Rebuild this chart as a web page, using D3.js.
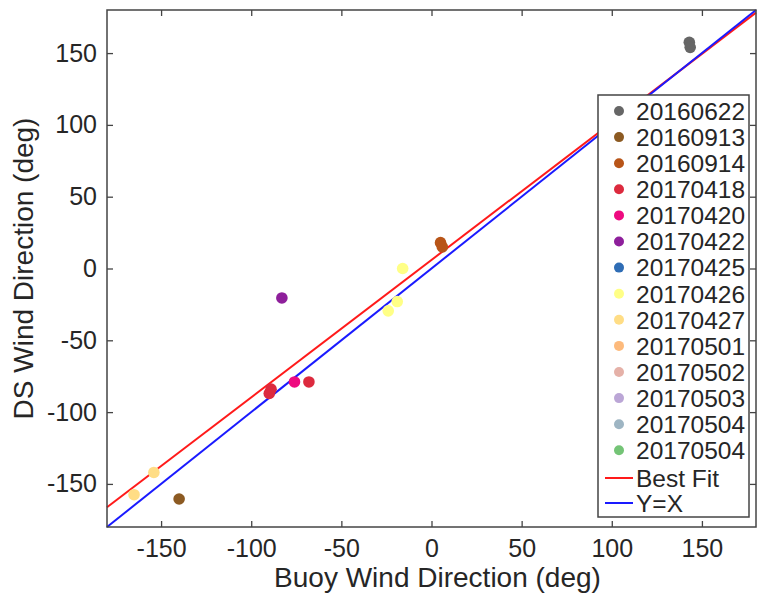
<!DOCTYPE html>
<meta charset="utf-8">
<style>
  html, body { margin: 0; background: #fff; }
  svg text { font-family: "Liberation Sans", Arial, Helvetica, sans-serif; fill: #262626; }
</style>
<body>
<script src="https://d3js.org/d3.v7.min.js"></script>
<script>
  // legend entries and their colours
  var dates = ["20160622", "20160913", "20160914", "20170418", "20170420", "20170422", "20170425",
    "20170426", "20170427", "20170501", "20170502", "20170503", "20170504", "20170504"];
  var colors = ["#666666", "#8c5a22", "#b85518", "#dc2a3e", "#ee0a80", "#8e1f9b", "#2f6db5",
    "#ffff86", "#ffdd85", "#fdba7c", "#e5b1a8", "#bba6d6", "#9eb5c3", "#74c476"];

  // points: buoy x, DS y, and which entry they belong to
  var buoyDir = [143, 143.5, -140, 5, 6, -89, -90, -68, -76, -83, -16, -19, -24, -154, -165];
  var dsDir   = [157.5, 154, -160.5, 18, 15, -84, -87, -79, -79, -20.5, 0, -23, -29.5, -142, -157.5];
  var group   = [0, 0, 1, 2, 2, 3, 3, 3, 4, 5, 7, 7, 7, 8, 8];

  var fitLine = [[-180, -166.3], [180, 178.2]];
  var oneToOne = [[-180, -180], [180, 180]];
  var tickVals = [-150, -100, -50, 0, 50, 100, 150];

  var margin = { top: 10, right: 1, bottom: 68, left: 107 },
    width = 757 - margin.left - margin.right,
    height = 595 - margin.top - margin.bottom;

  var svg = d3.select("body").append("svg")
    .attr("width", 757)
    .attr("height", 595)
    .append("g")
    .attr("transform", "translate(" + margin.left + "," + margin.top + ")");

  var x = d3.scaleLinear().domain([-180, 180]).range([0, width]);
  var y = d3.scaleLinear().domain([-180, 180]).range([height, 0]);

  // plain hyphen for negatives, like the original
  var fmt = function (d) { return String(d); };

  // axes with inward ticks on all four sides
  function styleAxis(g) {
    g.select(".domain").remove();
    g.selectAll(".tick line").attr("stroke", "#444").attr("stroke-width", 1.3);
    g.selectAll("text").style("font-size", "25px").attr("fill", "#262626");
  }
  svg.append("g").attr("transform", "translate(0," + height + ")")
    .call(d3.axisBottom(x).tickValues(tickVals).tickSize(-6).tickPadding(12).tickFormat(fmt))
    .call(styleAxis);
  svg.append("g")
    .call(d3.axisLeft(y).tickValues(tickVals).tickSize(-6).tickPadding(10).tickFormat(fmt))
    .call(styleAxis);
  svg.append("g")
    .call(d3.axisTop(x).tickValues(tickVals).tickSize(-6).tickFormat(""))
    .call(styleAxis);
  svg.append("g").attr("transform", "translate(" + width + ",0)")
    .call(d3.axisRight(y).tickValues(tickVals).tickSize(-6).tickFormat(""))
    .call(styleAxis);

  var line = d3.line().x(function (d) { return x(d[0]); }).y(function (d) { return y(d[1]); });

  svg.append("path").datum(fitLine).attr("d", line)
    .attr("fill", "none").attr("stroke", "#ff1a1a").attr("stroke-width", 2);
  svg.append("path").datum(oneToOne).attr("d", line)
    .attr("fill", "none").attr("stroke", "#1a1aff").attr("stroke-width", 2);

  // the scatter points
  svg.selectAll(".pt")
    .data(buoyDir)
    .enter().append("circle")
    .attr("class", "pt")
    .attr("cx", function (d) { return x(d); })
    .attr("cy", function (d, i) { return y(dsDir[i]); })
    .attr("r", 5.8)
    .attr("fill", function (d, i) { return colors[group[i]]; });

  // box
  svg.append("rect").attr("width", width).attr("height", height)
    .attr("fill", "none").attr("stroke", "#444").attr("stroke-width", 1.5);

  // axis labels
  svg.append("text")
    .attr("x", width / 2 + 6)
    .attr("y", height + 60)
    .style("text-anchor", "middle")
    .style("font-size", "28px")
    .text("Buoy Wind Direction (deg)");

  svg.append("text")
    .attr("transform", "rotate(-90)")
    .attr("x", -height / 2)
    .attr("y", -74)
    .style("text-anchor", "middle")
    .style("font-size", "28px")
    .text("DS Wind Direction (deg)");

  // legend
  var leg = svg.append("g").attr("transform", "translate(" + (598 - margin.left) + "," + (95 - margin.top) + ")");
  leg.append("rect").attr("width", 151).attr("height", 422)
    .attr("fill", "#fff").attr("stroke", "#444").attr("stroke-width", 1.5);

  var rowH = 26.1;
  var items = leg.selectAll(".item")
    .data(dates)
    .enter().append("g")
    .attr("class", "item")
    .attr("transform", function (d, i) { return "translate(0," + (16 + i * rowH) + ")"; });
  items.append("circle").attr("cx", 21).attr("r", 5)
    .attr("fill", function (d, i) { return colors[i]; });
  items.append("text").attr("x", 38).attr("dy", "0.36em")
    .style("font-size", "24.5px")
    .text(function (d) { return d; });

  var lineItems = [["Best Fit", "#ff1a1a"], ["Y=X", "#1a1aff"]];
  var li = leg.selectAll(".litem")
    .data(lineItems)
    .enter().append("g")
    .attr("class", "litem")
    .attr("transform", function (d, i) { return "translate(0," + (383 + i * 25) + ")"; });
  li.append("line").attr("x1", 7).attr("x2", 35)
    .attr("stroke", function (d) { return d[1]; }).attr("stroke-width", 2);
  li.append("text").attr("x", 38).attr("dy", "0.36em")
    .style("font-size", "24.5px")
    .text(function (d) { return d[0]; });
</script>
</body>
